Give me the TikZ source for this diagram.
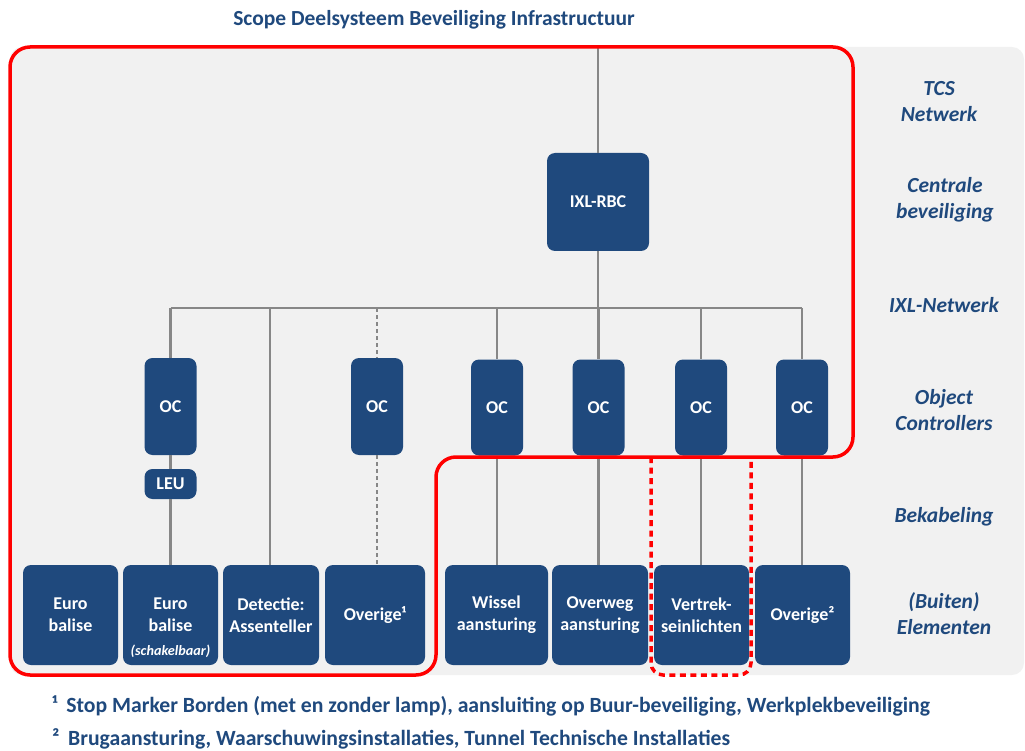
\documentclass[tikz,border=0pt]{standalone}
\usepackage{fontspec}
\setmainfont{Carlito}
\definecolor{navy}{HTML}{1F497D}
\definecolor{panel}{HTML}{F1F1F1}
\definecolor{wiregray}{HTML}{878787}
\definecolor{scopered}{HTML}{FF0000}
\tikzset{
  block/.style={fill=navy, draw=none, rounded corners=8pt, text=white, align=center,
    inner sep=0pt, font=\bfseries\fontsize{18}{22}\selectfont},
  wire/.style={draw=wiregray, line width=2.6pt},
  dwire/.style={wire, dash pattern=on 4pt off 3pt},
  layer/.style={text=navy, align=center, font=\bfseries\itshape\fontsize{21.5}{26}\selectfont},
  note/.style={text=navy, anchor=west, inner sep=0pt, font=\bfseries\fontsize{21.7}{25}\selectfont},
  scopeline/.style={draw=scopered, line width=3.5pt, rounded corners=20pt},
}
\begin{document}
\begin{tikzpicture}[x=1pt,y=-1pt]
\useasboundingbox (0,0) rectangle (1025,751);

% panel
\fill[panel, rounded corners=12pt] (10,47) rectangle (1024,675);

% title
\node[text=navy, font=\bfseries\fontsize{21.5}{25}\selectfont] (title) at (434,20)
  {Scope Deelsysteem Beveiliging Infrastructuur};

% central interlocking
\node[block, minimum width=102, minimum height=98] (ixl) at (598,202) {IXL-RBC};

% object controllers
\node[block, minimum width=52, minimum height=97] (oc1) at (170.5,406.5) {OC};
\node[block, minimum width=52, minimum height=30] (leu) at (170.5,484) {LEU};
\node[block, minimum width=52, minimum height=97] (oc2) at (377,406.5) {OC};
\node[block, minimum width=52, minimum height=96] (oc3) at (497,407.5) {OC};
\node[block, minimum width=52, minimum height=96] (oc4) at (598.5,407.5) {OC};
\node[block, minimum width=52, minimum height=96] (oc5) at (701,407.5) {OC};
\node[block, minimum width=52, minimum height=96] (oc6) at (802,407.5) {OC};

% field elements
\node[block, minimum width=95, minimum height=100] (b1) at (70.5,615) {Euro\\balise};
\node[block, minimum width=95, minimum height=100] (b2) at (170.5,615) {Euro\\balise};
\path (b2.south) node[above, yshift=4pt, text=white,
  font=\bfseries\itshape\fontsize{14.2}{17}\selectfont] (b2note) {(schakelbaar)};
\node[block, minimum width=96, minimum height=100] (b3) at (271,615) {Detectie:\\Assenteller};
\node[block, minimum width=100, minimum height=100] (b4) at (375,615) {Overige¹};
\node[block, minimum width=103, minimum height=100] (b5) at (496.5,615) {Wissel\\aansturing};
\node[block, minimum width=96, minimum height=100] (b6) at (600,615) {Overweg\\aansturing};
\node[block, minimum width=95, minimum height=100] (b7) at (701.5,615) {Vertrek-\\seinlichten};
\node[block, minimum width=95, minimum height=100] (b8) at (802.5,615) {Overige²};

% network wiring
\coordinate (tcs) at (598,47);
\coordinate (bus) at (598,308);
\coordinate (b3bus) at (270,308);
\coordinate (b3top) at (270,565);
\draw[wire] (tcs) -- (ixl.north);
\draw[wire] (ixl.south) -- (bus);
\draw[wire] (oc1.north |- bus) -- (oc6.north |- bus);
\draw[wire] (oc1.north |- bus) -- (oc1.north);
\draw[wire] (b3bus) -- (b3top);
\draw[dwire] (oc2.north |- bus) -- (oc2.north);
\draw[wire] (oc3.north |- bus) -- (oc3.north);
\draw[wire] (oc4.north |- bus) -- (oc4.north);
\draw[wire] (oc5.north |- bus) -- (oc5.north);
\draw[wire] (oc6.north |- bus) -- (oc6.north);

% cabling to field elements
\draw[wire] (oc1.south) -- (leu.north);
\draw[wire] (leu.south) -- (b2.north);
\draw[dwire] (oc2.south) -- (b4.north -| oc2.south);
\draw[wire] (oc3.south) -- (b5.north -| oc3.south);
\draw[wire] (oc4.south) -- (b6.north -| oc4.south);
\draw[wire] (oc5.south) -- (b7.north -| oc5.south);
\draw[wire] (oc6.south) -- (b8.north -| oc6.south);

% scope outlines
\draw[scopeline] (10,47) -- (853,47) -- (853,457) -- (436,457) -- (436,675) -- (10,675) -- cycle;
\draw[scopeline, rounded corners=12pt, dash pattern=on 6pt off 4.5pt]
  (651,457) -- (651,675) -- (751,675) -- (751,457);

% layer labels
\node[layer] (l1) at (939,102) {TCS\\Netwerk};
\node[layer] (l2) at (945,200) {Centrale\\beveiliging};
\node[layer] (l3) at (944,305) {IXL-Netwerk};
\node[layer] (l4) at (944,410) {Object\\Controllers};
\node[layer] (l5) at (944,517) {Bekabeling};
\node[layer] (l6) at (944,614) {(Buiten)\\Elementen};

% footnotes
\node[note] (n1) at (52,706) {¹\hspace{0.4em}Stop Marker Borden (met en zonder lamp), aansluiting op Buur-beveiliging, Werkplekbeveiliging};
\node[note] (n2) at (52,739) {²\hspace{0.4em}Brugaansturing, Waarschuwingsinstallaties, Tunnel Technische Installaties};
\end{tikzpicture}
\end{document}
